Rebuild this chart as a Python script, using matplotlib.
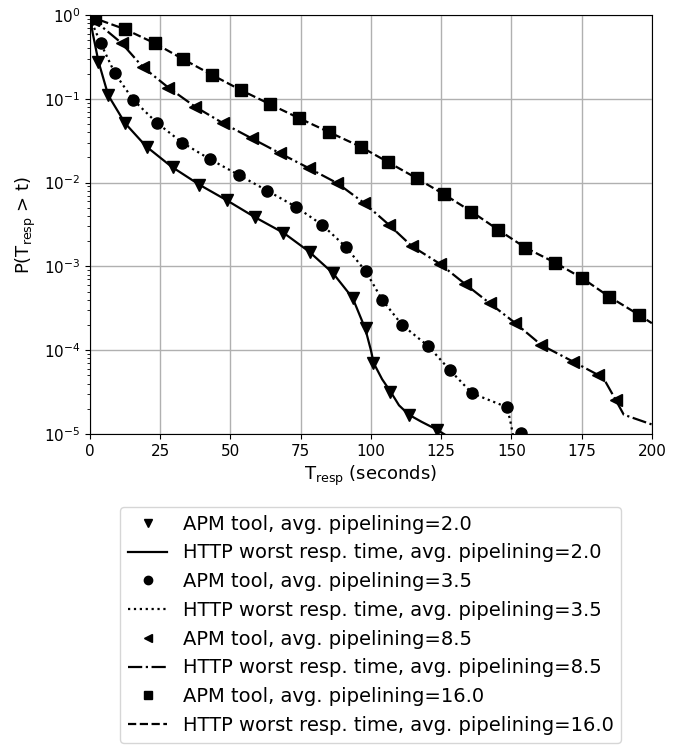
import matplotlib
matplotlib.use("Agg")
import matplotlib.pyplot as plt

# APM tool estimates (markers) and HTTP worst response time (lines), CCDF
pipelining = ["2.0", "3.5", "8.5", "16.0"]

apm_t_20 = [0.5, 2.95, 6.5, 12.45, 20.2, 29.4, 38.9, 48.6, 58.7, 68.8, 78.3,
            86.6, 93.7, 98.2, 100.8, 106.8, 113.6, 123.4]
apm_p_20 = [0.85, 0.277, 0.111, 0.051, 0.0268, 0.0155, 0.00936, 0.0062,
            0.00392, 0.00248, 0.0015, 0.00083, 0.000416, 0.000182, 7.0e-5,
            3.2e-5, 1.69e-5, 1.12e-5]

apm_t_35 = [0.5, 3.8, 8.9, 15.4, 23.7, 32.8, 42.7, 53.0, 63.1, 73.2, 82.7,
            91.0, 98.2, 104.0, 111.1, 120.4, 128.1, 136.0, 148.3, 153.4]
apm_p_35 = [0.9, 0.459, 0.201, 0.0968, 0.0519, 0.0299, 0.019, 0.0123, 0.0080,
            0.00516, 0.00312, 0.00172, 0.00087, 0.000397, 0.0002, 0.000112,
            5.8e-5, 3.06e-5, 2.12e-5, 1.02e-5]

apm_t_85 = [1.2, 11.3, 18.75, 27.9, 37.4, 47.4, 57.5, 67.6, 78.0, 88.1, 97.4,
            106.5, 114.5, 124.6, 133.5, 142.3, 151.2, 160.7, 172.0, 180.9,
            187.2]
apm_p_85 = [0.88, 0.459, 0.2415, 0.1357, 0.0805, 0.051, 0.0338, 0.0224,
            0.0148, 0.0098, 0.00576, 0.00312, 0.00175, 0.00107, 0.000617,
            0.000363, 0.000213, 0.000115, 7.3e-5, 5.06e-5, 2.55e-5]

apm_t_160 = [1.8, 12.5, 23.1, 33.2, 43.5, 53.7, 64.1, 74.5, 85.2, 96.3, 106.2,
             116.3, 126.0, 135.8, 145.4, 155.0, 165.5, 175.3, 184.8, 195.5]
apm_p_160 = [0.91, 0.675, 0.459, 0.296, 0.192, 0.127, 0.086, 0.0585, 0.0398,
             0.0268, 0.01746, 0.01125, 0.00725, 0.0045, 0.00272, 0.00167,
             0.00111, 0.00072, 0.000435, 0.000263]

http_t_20 = [0, 1, 3, 6.5, 12.5, 20, 29, 39, 48.5, 58.5, 69, 78, 86.5, 93.5,
             98, 100, 101, 104, 107, 110, 113.5, 118, 123, 126, 128]
http_p_20 = [0.95, 0.6, 0.28, 0.11, 0.051, 0.027, 0.0155, 0.0094, 0.0062,
             0.0039, 0.0025, 0.0015, 0.00083, 0.00042, 0.00018, 0.0001, 7e-5,
             4.5e-5, 3.2e-5, 2.2e-5, 1.7e-5, 1.4e-5, 1.15e-5, 1e-5, 9e-6]

http_t_35 = [0, 1.5, 3.8, 8.9, 15.4, 23.7, 32.8, 42.7, 53.0, 63.1, 73.2, 82.7,
             91.0, 98.2, 104.0, 111.1, 120.4, 128.1, 136.0, 148.3, 149.5,
             150.5, 151]
http_p_35 = [0.95, 0.7, 0.46, 0.2, 0.097, 0.052, 0.03, 0.019, 0.0123, 0.008,
             0.00516, 0.00312, 0.00172, 0.00087, 0.0004, 0.0002, 0.000112,
             5.8e-5, 3.06e-5, 2.1e-5, 1.5e-5, 1e-5, 5e-6]

http_t_85 = [0, 1.2, 11.3, 18.75, 27.9, 37.4, 47.4, 57.5, 67.6, 78.0, 88.1,
             97.4, 106.5, 114.5, 124.6, 133.5, 142.3, 151.2, 160.7, 172.0,
             180.9, 183, 187, 190, 200]
http_p_85 = [0.97, 0.88, 0.46, 0.24, 0.136, 0.0805, 0.051, 0.0338, 0.0224,
             0.0148, 0.0098, 0.00576, 0.00312, 0.00175, 0.00107, 0.000617,
             0.000363, 0.000213, 0.000115, 7.3e-5, 5.06e-5, 4.5e-5, 2.6e-5,
             1.7e-5, 1.3e-5]

http_t_160 = [0, 1.8, 12.5, 23.1, 33.2, 43.5, 53.7, 64.1, 74.5, 85.2, 96.3,
              106.2, 116.3, 126.0, 135.8, 145.4, 155.0, 165.5, 175.3, 184.8,
              195.5, 200]
http_p_160 = [1.0, 0.91, 0.675, 0.459, 0.296, 0.192, 0.127, 0.086, 0.0585,
              0.0398, 0.0268, 0.01746, 0.01125, 0.00725, 0.0045, 0.00272,
              0.00167, 0.00111, 0.00072, 0.000435, 0.000263, 0.00021]

apm_t = [apm_t_20, apm_t_35, apm_t_85, apm_t_160]
apm_p = [apm_p_20, apm_p_35, apm_p_85, apm_p_160]
http_t = [http_t_20, http_t_35, http_t_85, http_t_160]
http_p = [http_p_20, http_p_35, http_p_85, http_p_160]

markers = ["v", "o", "<", "s"]
linestyles = ["-", ":", "-.", "--"]

fig = plt.figure(figsize=(6.79, 7.47), dpi=100)
ax = fig.add_axes([0.1325, 0.419, 0.8275, 0.561])

for i, pl in enumerate(pipelining):
    ax.plot(apm_t[i], apm_p[i], linestyle="none", marker=markers[i],
            markersize=8, color="black",
            label=f"APM tool, avg. pipelining={pl}")
    ax.plot(http_t[i], http_p[i], linestyle=linestyles[i], lw=1.6,
            color="black",
            label=f"HTTP worst resp. time, avg. pipelining={pl}")

ax.set_yscale("log")
ax.set_xlim(0, 200)
ax.set_ylim(1e-5, 1)
ax.set_xticks([0, 25, 50, 75, 100, 125, 150, 175, 200])
ax.tick_params(labelsize=11)
ax.grid(True, which="major", color="#b0b0b0", lw=1)
ax.set_axisbelow(True)
ax.set_xlabel(r"T$_{\mathrm{resp}}$ (seconds)", fontsize=13)
ax.set_ylabel(r"P(T$_{\mathrm{resp}}$ > t)", fontsize=13)

ax.legend(loc="upper center", bbox_to_anchor=(0.5, -0.174), borderaxespad=0,
          fontsize=14, labelspacing=0.5, markerscale=0.75)

fig.savefig("out.png", dpi=100)
